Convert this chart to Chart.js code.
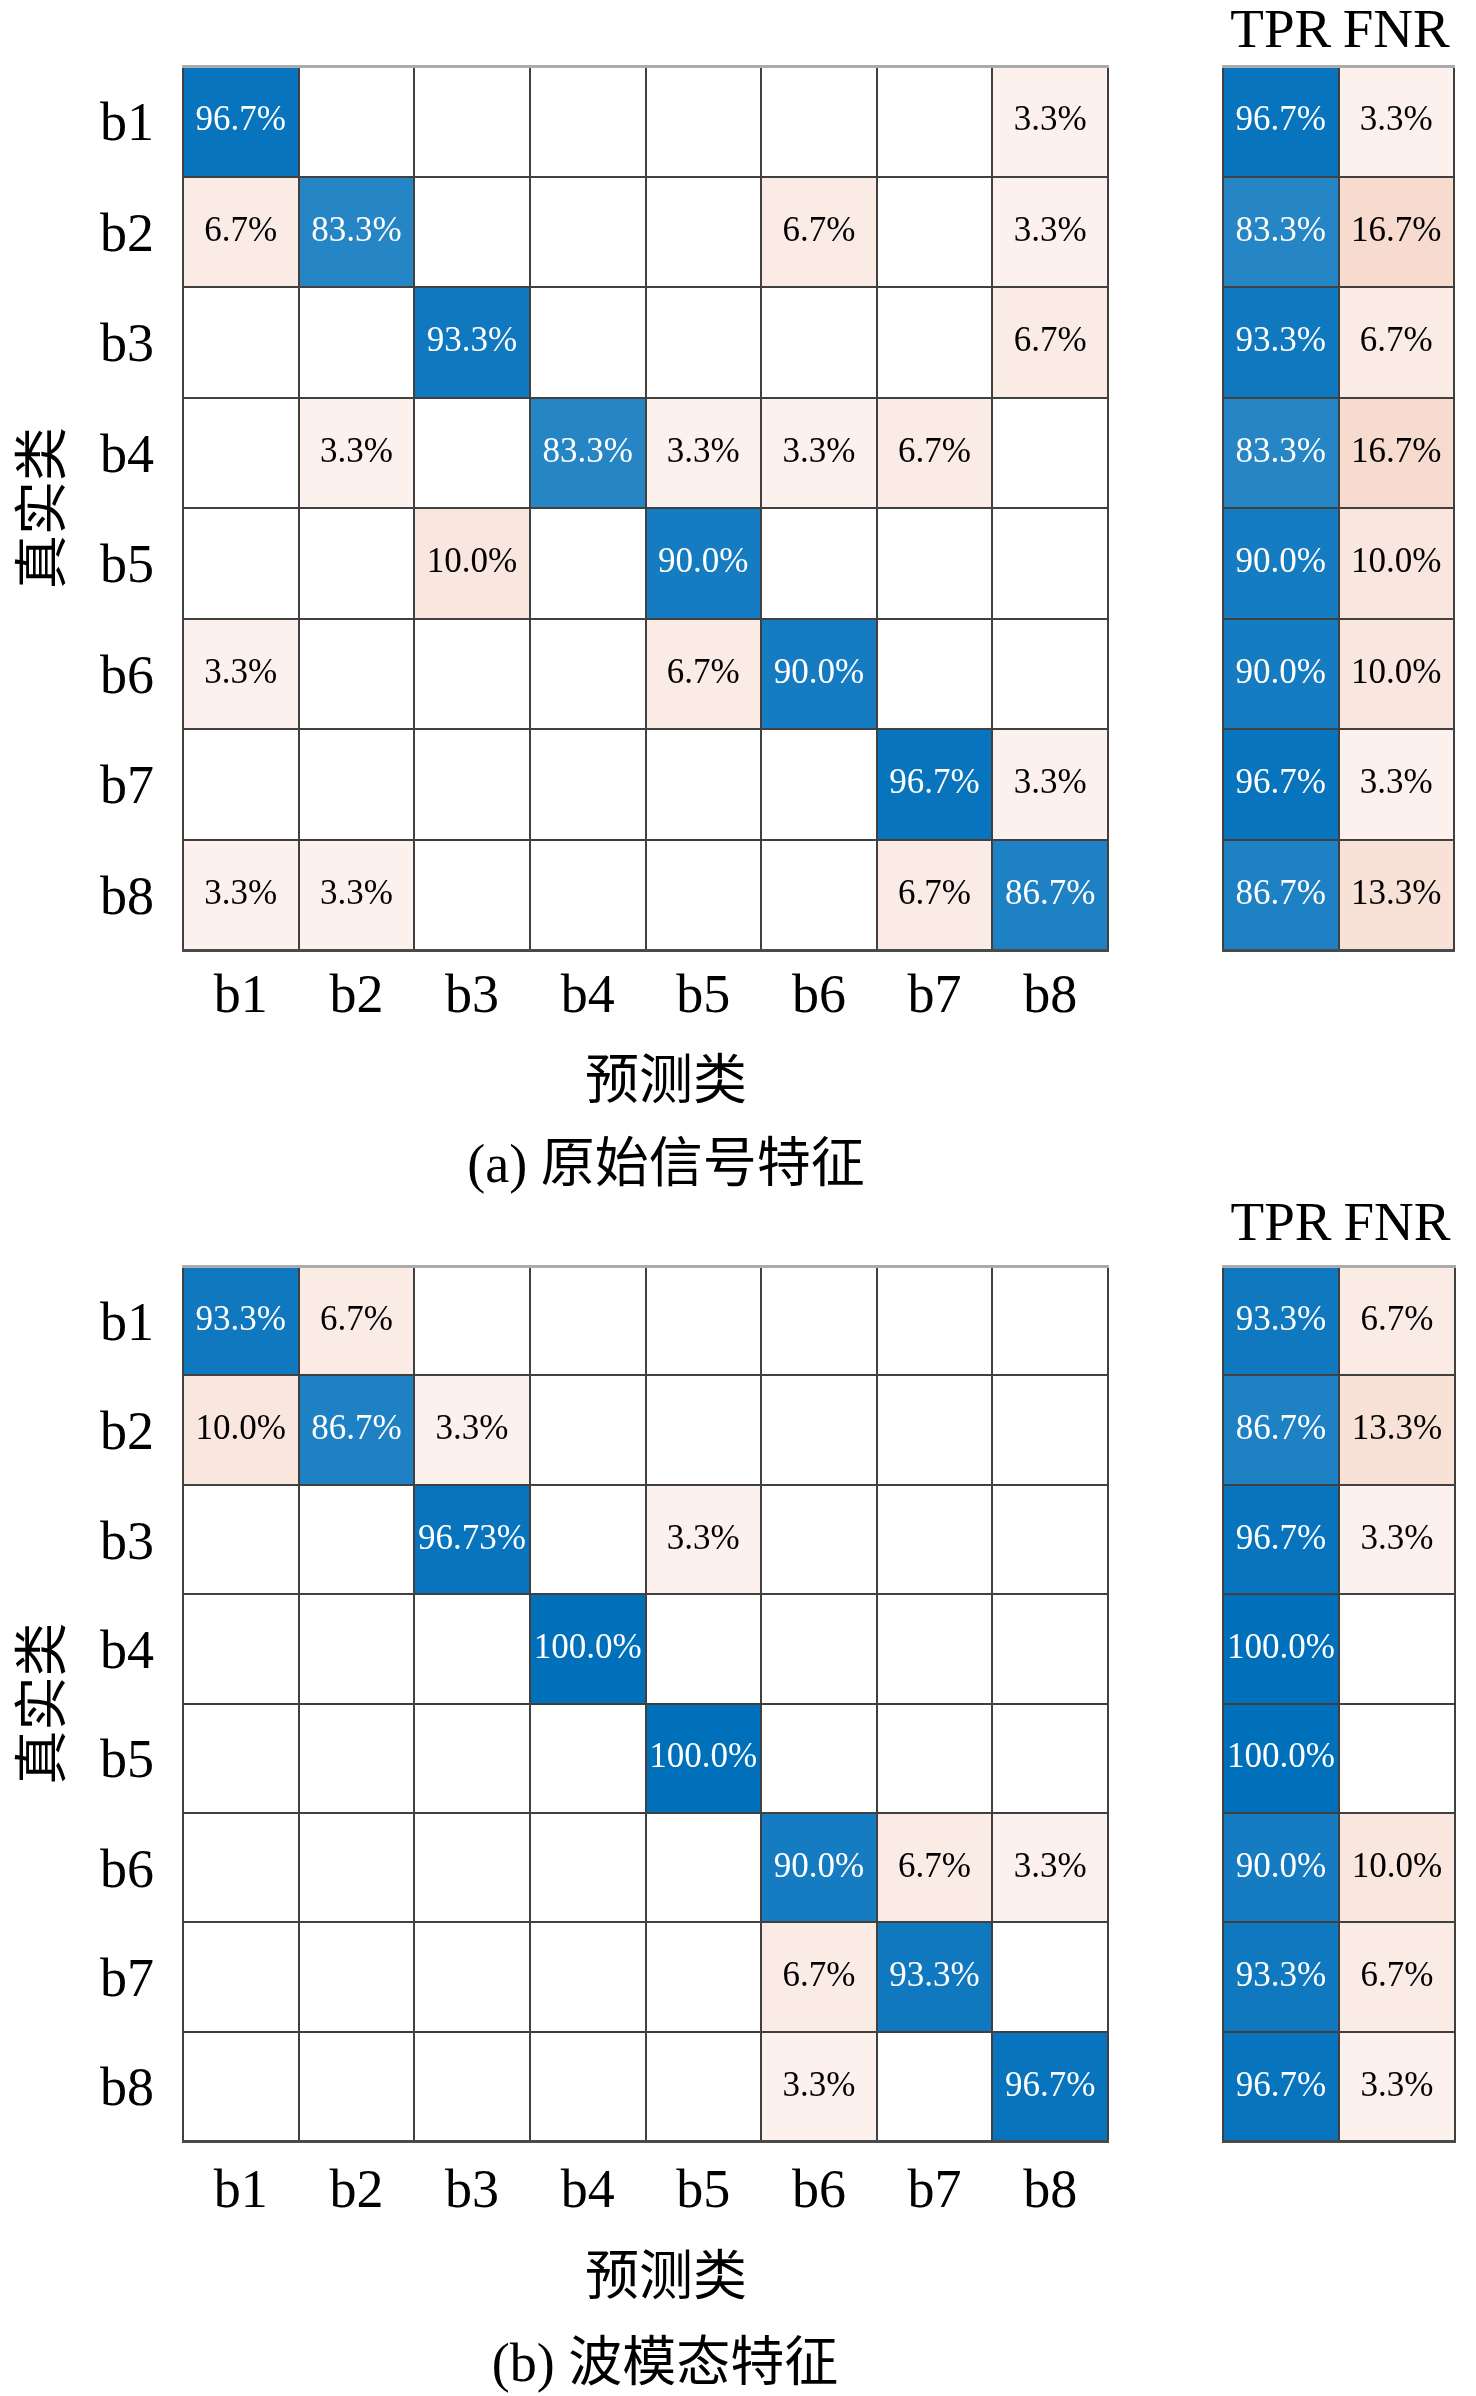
<!DOCTYPE html>
<html>
<head>
<meta charset="utf-8">
<script src="https://cdn.jsdelivr.net/npm/chart.js@4.4.1/dist/chart.umd.min.js"></script>
<style>
html,body{margin:0;padding:0;background:#fff;}
#page{position:relative;width:1476px;height:2396px;overflow:hidden;background:#fff;}
#page canvas{position:absolute;}
.txt{position:absolute;transform:translate(-50%,-50%);white-space:nowrap;font-family:'Liberation Serif','Noto Sans CJK SC',serif;font-size:54px;line-height:1;color:#000;}
</style>
</head>
<body>
<div id="page">
  <canvas id="mA" width="1160" height="1040" style="left:0px;top:0px;width:1160px;height:1040px"></canvas>
  <canvas id="sA" width="286" height="960" style="left:1190px;top:0px;width:286px;height:960px"></canvas>
  <canvas id="mB" width="1160" height="1031" style="left:0px;top:1200px;width:1160px;height:1031px"></canvas>
  <canvas id="sB" width="286" height="951" style="left:1190px;top:1200px;width:286px;height:951px"></canvas>
  <div class="txt" style="left:666px;top:1081px">预测类</div>
  <div class="txt" style="left:666px;top:1164px">(a) 原始信号特征</div>
  <div class="txt" style="left:666px;top:2277px">预测类</div>
  <div class="txt" style="left:665px;top:2363px">(b) 波模态特征</div>
</div>
<script>
// ---------------- data ----------------
const classes = ['b1', 'b2', 'b3', 'b4', 'b5', 'b6', 'b7', 'b8'];
const summaryLabels = ['TPR', 'FNR'];

// (a) 原始信号特征 : rows = true class, cols = predicted class (%)
const cmA = [
  [96.7, 0, 0, 0, 0, 0, 0, 3.3],
  [6.7, 83.3, 0, 0, 0, 6.7, 0, 3.3],
  [0, 0, 93.3, 0, 0, 0, 0, 6.7],
  [0, 3.3, 0, 83.3, 3.3, 3.3, 6.7, 0],
  [0, 0, 10.0, 0, 90.0, 0, 0, 0],
  [3.3, 0, 0, 0, 6.7, 90.0, 0, 0],
  [0, 0, 0, 0, 0, 0, 96.7, 3.3],
  [3.3, 3.3, 0, 0, 0, 0, 6.7, 86.7]
];
const tprA = [96.7, 83.3, 93.3, 83.3, 90.0, 90.0, 96.7, 86.7];
const fnrA = [3.3, 16.7, 6.7, 16.7, 10.0, 10.0, 3.3, 13.3];

// (b) 波模态特征
const cmB = [
  [93.3, 6.7, 0, 0, 0, 0, 0, 0],
  [10.0, 86.7, 3.3, 0, 0, 0, 0, 0],
  [0, 0, 96.73, 0, 3.3, 0, 0, 0],
  [0, 0, 0, 100.0, 0, 0, 0, 0],
  [0, 0, 0, 0, 100.0, 0, 0, 0],
  [0, 0, 0, 0, 0, 90.0, 6.7, 3.3],
  [0, 0, 0, 0, 0, 6.7, 93.3, 0],
  [0, 0, 0, 0, 0, 3.3, 0, 96.7]
];
const tprB = [93.3, 86.7, 96.7, 100.0, 100.0, 90.0, 93.3, 96.7];
const fnrB = [6.7, 13.3, 3.3, 0, 0, 10.0, 6.7, 3.3];

// ---------------- styling ----------------
const SERIF = "'Liberation Serif', 'Noto Sans CJK SC', serif";
const GRID = '#404040';
const BLUE = [0, 112, 187];
const RED = [217, 83, 25];
const LABEL_SHIFT = 0.045;   // MATLAB draws row labels slightly below row centres

function mix(base, f) {
  f = Math.max(0, Math.min(1, f));
  const c = base.map(b => Math.round(255 - (255 - b) * f));
  return `rgb(${c[0]},${c[1]},${c[2]})`;
}
function blueOf(v) { return v > 0 ? mix(BLUE, 0.13 + 0.0087 * v) : '#ffffff'; }
function redOf(v) { return v > 0 ? mix(RED, 0.05 + 0.0095 * v) : '#ffffff'; }
function fmt(v) {
  const t = v * 10;
  return (Math.abs(t - Math.round(t)) < 1e-6 ? v.toFixed(1) : String(v)) + '%';
}

const cellText = {
  id: 'cellText',
  afterDatasetsDraw(chart) {
    const ctx = chart.ctx;
    ctx.save();
    ctx.font = '35px ' + SERIF;
    ctx.textAlign = 'center';
    ctx.textBaseline = 'middle';
    chart.data.datasets.forEach((ds, di) => {
      const meta = chart.getDatasetMeta(di);
      meta.data.forEach((el, i) => {
        const v = ds.values[i];
        if (!(v > 0)) return;
        ctx.fillStyle = ds.textColors[i];
        ctx.fillText(fmt(v), el.x, (el.y + el.base) / 2);
      });
    });
    ctx.restore();
  }
};

function rowDatasets(nRows, valuesOf, colorOf, textOf) {
  const out = [];
  for (let r = 0; r < nRows; r++) {
    const vals = valuesOf(r);
    out.push({
      data: vals.map(() => [r + 0.5, r + 1.5]),
      values: vals,
      backgroundColor: vals.map((v, c) => colorOf(v, r, c)),
      textColors: vals.map((v, c) => textOf(v, r, c)),
      borderWidth: 0,
      barPercentage: 1,
      categoryPercentage: 1,
      grouped: false
    });
  }
  return out;
}

const NOGRID = { display: false, drawTicks: false };

// shared vertical scales: data axis (hidden) + row-boundary grid axis
function rowScales() {
  return {
    y: { type: 'linear', display: false, reverse: true, min: 0.5, max: 8.5 },
    yg: {
      type: 'linear', position: 'left', reverse: true, min: 0.5, max: 8.5, weight: -1,
      grid: { display: true, drawTicks: false, color: GRID, lineWidth: 2, z: 1 },
      border: { display: false },
      ticks: { display: false },
      afterBuildTicks: s => { s.ticks = [0, 1, 2, 3, 4, 5, 6, 7, 8].map(i => ({ value: i + 0.5 })); },
      afterFit: s => { s.width = 0; }
    }
  };
}

function makeMain(id, matrix, geo) {
  const W = document.getElementById(id).width;
  const datasets = rowDatasets(matrix.length, r => matrix[r],
    (v, r, c) => (r === c ? blueOf(v) : redOf(v)),
    (v, r, c) => (r === c ? '#ffffff' : '#000000'));
  new Chart(document.getElementById(id), {
    type: 'bar',
    data: { labels: classes, datasets },
    options: {
      responsive: false, animation: false, devicePixelRatio: 1,
      layout: { padding: { left: 0, top: geo.top, right: W - geo.right, bottom: 0 } },
      plugins: { legend: { display: false }, tooltip: { enabled: false }, title: { display: false } },
      scales: Object.assign(rowScales(), {
        x: {
          type: 'category', position: 'bottom', offset: true,
          grid: { display: true, drawTicks: false, offset: true, color: GRID, lineWidth: 2, z: 1 },
          border: { display: true, color: '#4a4a4a', width: 3, z: 2 },
          ticks: { color: '#000', font: { family: SERIF, size: 54 }, padding: geo.xPad, maxRotation: 0, autoSkip: false },
          afterFit: s => { s.height = geo.xAxisH; }
        },
        xt: {
          type: 'category', position: 'top', offset: true,
          grid: NOGRID,
          ticks: { display: false },
          border: { display: true, color: '#ababab', width: 3, z: 2 },
          afterFit: s => { s.height = 0; }
        },
        yl: {
          type: 'linear', position: 'left', reverse: true, weight: 1,
          min: 0.5 - LABEL_SHIFT, max: 8.5 - LABEL_SHIFT,
          grid: NOGRID,
          border: { display: false },
          afterBuildTicks: s => { s.ticks = classes.map((_, i) => ({ value: i + 1 })); },
          ticks: { color: '#000', font: { family: SERIF, size: 54 }, padding: 29, autoSkip: false,
                   callback: v => classes[v - 1] || '' },
          title: { display: true, text: '真实类', color: '#000', font: { family: SERIF, size: 54 }, padding: { top: 14, bottom: 0 } },
          afterFit: s => { s.width = geo.left; }
        }
      })
    },
    plugins: [cellText]
  });
}

function makeSide(id, tpr, fnr, geo) {
  const cv = document.getElementById(id);
  const datasets = rowDatasets(tpr.length, r => [tpr[r], fnr[r]],
    (v, r, c) => (c === 0 ? blueOf(v) : redOf(v)),
    (v, r, c) => (c === 0 ? '#ffffff' : '#000000'));
  new Chart(cv, {
    type: 'bar',
    data: { labels: summaryLabels, datasets },
    options: {
      responsive: false, animation: false, devicePixelRatio: 1,
      layout: { padding: { left: geo.left, top: 0, right: cv.width - geo.right, bottom: cv.height - geo.bottom } },
      plugins: { legend: { display: false }, tooltip: { enabled: false } },
      scales: Object.assign(rowScales(), {
        x: {
          type: 'category', position: 'top', offset: true,
          grid: { display: true, drawTicks: false, offset: true, color: GRID, lineWidth: 2, z: 1 },
          border: { display: true, color: '#ababab', width: 3, z: 2 },
          ticks: { color: '#000', font: { family: SERIF, size: 55 }, padding: geo.labelPad, maxRotation: 0, autoSkip: false },
          afterFit: s => { s.height = geo.top; }
        },
        xb: {
          type: 'category', position: 'bottom', offset: true,
          grid: NOGRID,
          ticks: { display: false },
          border: { display: true, color: '#4a4a4a', width: 3, z: 2 },
          afterFit: s => { s.height = 0; }
        }
      })
    },
    plugins: [cellText]
  });
}

makeMain('mA', cmA, { top: 66, right: 1108, left: 183, xAxisH: 90, xPad: 15 });
makeSide('sA', tprA, fnrA, { left: 33, right: 264, top: 66, bottom: 950, labelPad: 0 });
makeMain('mB', cmB, { top: 66, right: 1108, left: 183, xAxisH: 90, xPad: 19 });
makeSide('sB', tprB, fnrB, { left: 33, right: 265, top: 66, bottom: 941, labelPad: 7 });
</script>
</body>
</html>
